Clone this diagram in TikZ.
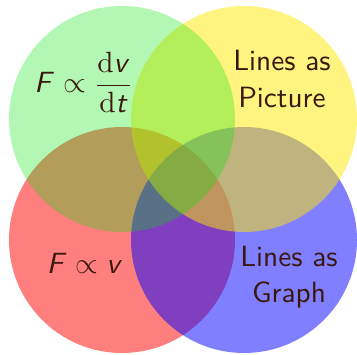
\documentclass[tikz,border=0pt]{standalone}
\DeclareMathAlphabet{\mathsfsl}{OT1}{cmss}{m}{sl}
\definecolor{cred}{RGB}{255,0,0}
\definecolor{cblue}{RGB}{0,0,255}
\definecolor{cyellow}{RGB}{255,233,0}
\definecolor{cgreen}{RGB}{0,228,5}
\definecolor{txt}{RGB}{58,24,14}
\tikzset{
  blob/.style={circle, minimum size=226pt, inner sep=0pt, draw=none},
  lbl/.style={text=txt, font=\fontsize{10.95}{13.6}\selectfont\sffamily, align=center, inner sep=0pt, anchor=base, scale=2.675, transform shape}
}
\begin{document}
\begin{tikzpicture}[x=1pt,y=-1pt]
\useasboundingbox (0,0) rectangle (357,355);
\node[blob, fill=cred, fill opacity=0.5] (red) at (122,240) {};
\node[blob, fill=cblue, fill opacity=0.5] (blue) at (244,240) {};
\node[blob, fill=cyellow, fill opacity=0.5] (yellow) at (244,119) {};
\node[blob, fill=cgreen, fill opacity=0.3] (green) at (122,119) {};
\node[lbl] (t1) at (84,92.5) {$\mathsfsl{F}\propto{\displaystyle\frac{\mathrm{d}\mathsfsl{v}}{\mathrm{d}\mathsfsl{t}}}$};
\node[lbl] (t2) at (282,107.3) {Lines as\\Picture};
\node[lbl] (t3) at (85,274) {$\mathsfsl{F}\propto\mathsfsl{v}$};
\node[lbl] (t4) at (289,303) {Lines as\\Graph};
\end{tikzpicture}
\end{document}
